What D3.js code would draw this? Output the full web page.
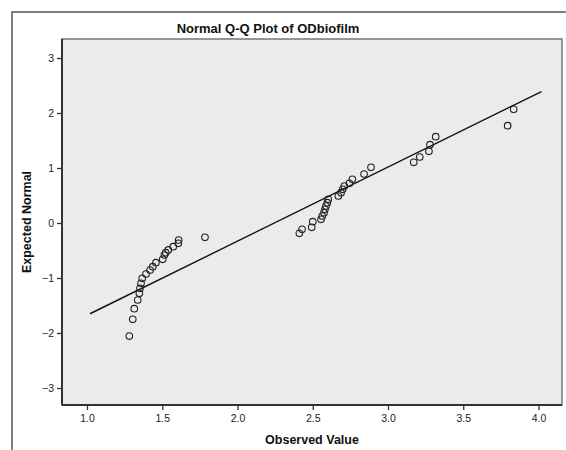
<!DOCTYPE html>
<html><head><meta charset="utf-8">
<script src="https://cdn.jsdelivr.net/npm/d3@7"></script>
<style>html,body{margin:0;padding:0;background:#fff;}svg{display:block;}</style>
</head><body>
<script>
const observed = [1.281,1.304,1.314,1.337,1.348,1.352,1.359,1.367,1.392,1.419,1.437,1.458,1.503,1.514,1.523,1.540,1.573,1.607,1.609,1.784,
  2.411,2.429,2.493,2.500,2.555,2.563,2.575,2.581,2.588,2.597,2.603,2.670,2.688,2.699,2.710,2.743,2.763,2.841,2.887,
  3.171,3.211,3.272,3.279,3.317,3.795,3.835];
const expected = [-2.055,-1.751,-1.558,-1.400,-1.278,-1.187,-1.096,-1.005,-0.927,-0.855,-0.794,-0.722,-0.660,-0.582,-0.540,-0.490,-0.430,-0.369,-0.309,-0.260,
  -0.187,-0.115,-0.078,0.024,0.067,0.127,0.187,0.249,0.309,0.369,0.431,0.491,0.551,0.613,0.673,0.722,0.795,0.891,1.013,
  1.103,1.200,1.303,1.424,1.570,1.770,2.067];
const refLineX = [1.02, 4.02];
const refLineY = [-1.65, 2.39];
const xTicks = [1.0,1.5,2.0,2.5,3.0,3.5,4.0];
const yTicks = [-3,-2,-1,0,1,2,3];
const title = "Normal Q-Q Plot of ODbiofilm";
const xTitle = "Observed Value";
const yTitle = "Expected Normal";

const W = 566, H = 450;
const plot = {left:62, top:39, right:562, bottom:405};
const svg = d3.select("body").append("svg").attr("width",W).attr("height",H);
const font = "Arial, 'Liberation Sans', sans-serif";

// outer frame
svg.append("rect").attr("x",12).attr("y",12).attr("width",700).attr("height",600)
  .attr("fill","#fff").attr("stroke","#555").attr("stroke-width",1.5);

const x = d3.scaleLinear().domain([1.0,4.0]).range([87,538.5]);
const y = d3.scaleLinear().domain([-3,3]).range([388,58]);

svg.append("rect").attr("x",plot.left).attr("y",plot.top)
  .attr("width",plot.right-plot.left).attr("height",plot.bottom-plot.top)
  .attr("fill","#ebebeb").attr("stroke","#777").attr("stroke-width",1.5);

svg.append("text").attr("x",268).attr("y",33).attr("text-anchor","middle")
  .attr("font-family",font).attr("font-weight","bold").attr("font-size",13).attr("fill","#111").text(title);

const xAxis = svg.append("g").attr("transform",`translate(0,${plot.bottom})`)
  .call(d3.axisBottom(x).tickValues(xTicks).tickFormat(d3.format(".1f")).tickSize(5).tickPadding(5));
const yAxis = svg.append("g").attr("transform",`translate(${plot.left},0)`)
  .call(d3.axisLeft(y).tickValues(yTicks).tickFormat(d3.format("d")).tickSize(5).tickPadding(3));
[xAxis,yAxis].forEach(a=>{
  a.select(".domain").remove();
  a.selectAll(".tick line").attr("stroke","#333").attr("stroke-width",1.3);
  a.selectAll(".tick text").attr("font-family",font).attr("font-size",10.5).attr("fill","#222");
});
// axis lines (left & bottom)
svg.append("line").attr("x1",plot.left).attr("x2",plot.left).attr("y1",plot.top).attr("y2",plot.bottom)
  .attr("stroke","#333").attr("stroke-width",2);
svg.append("line").attr("x1",plot.left).attr("x2",plot.right).attr("y1",plot.bottom).attr("y2",plot.bottom)
  .attr("stroke","#333").attr("stroke-width",2);

svg.append("text").attr("x",(plot.left+plot.right)/2).attr("y",444).attr("text-anchor","middle")
  .attr("font-family",font).attr("font-weight","bold").attr("font-size",12.5).attr("fill","#111").text(xTitle);
svg.append("text").attr("transform",`translate(31,${(plot.top+plot.bottom)/2}) rotate(-90)`).attr("text-anchor","middle")
  .attr("font-family",font).attr("font-weight","bold").attr("font-size",12.5).attr("fill","#111").text(yTitle);

// reference line
svg.append("line").attr("x1",x(refLineX[0])).attr("y1",y(refLineY[0]))
  .attr("x2",x(refLineX[1])).attr("y2",y(refLineY[1])).attr("stroke","#111").attr("stroke-width",1.4);

// points
svg.append("g").selectAll("circle").data(observed.map((v,i)=>[v,expected[i]])).join("circle")
  .attr("cx",d=>x(d[0])).attr("cy",d=>y(d[1])).attr("r",3.3)
  .attr("fill","none").attr("stroke","#222").attr("stroke-width",1.1);
</script>
</body></html>
